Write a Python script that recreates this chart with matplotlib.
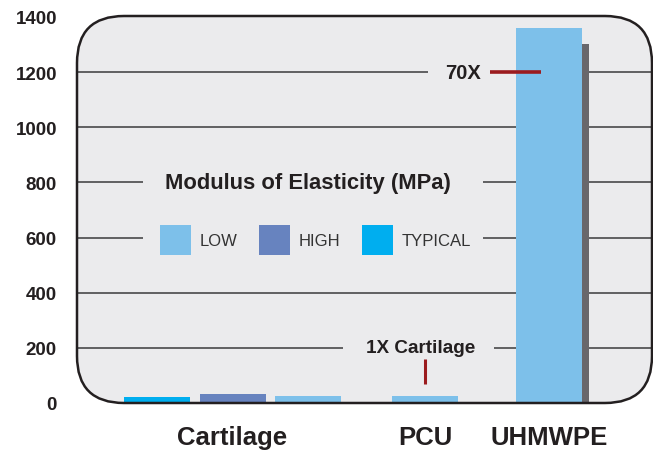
import matplotlib
matplotlib.use("Agg")
import matplotlib.pyplot as plt
from matplotlib.patches import FancyBboxPatch, Rectangle
from matplotlib.transforms import IdentityTransform

# ---- data ----
categories = ["Cartilage", "PCU", "UHMWPE"]
series_names = ["TYPICAL", "HIGH", "LOW"]          # left-to-right order within a group
typical = [22, None, None]
high = [33, None, None]
low = [25, 25, 1360]
uhmwpe_shadow = 1302
y_ticks = [0, 200, 400, 600, 800, 1000, 1200, 1400]
legend_order = ["LOW", "HIGH", "TYPICAL"]
note_top = "70X"
note_bottom = "1X Cartilage"
title = "Modulus of Elasticity (MPa)"

# ---- style ----
BG = "#EBEBED"
INK = "#231F20"
GRID = "#3A3A3C"
RED = "#9B1B1E"
SHADOW = "#69676B"
COLORS = {"LOW": "#7DC0EA", "HIGH": "#6783BF", "TYPICAL": "#00AEEF"}
FONT = "Liberation Sans"

W, H = 653, 452
BOX_L, BOX_R, BOX_T, BOX_B = 77, 652, 17, 404   # pixel frame of the rounded panel
AX_TOP = 18

fig = plt.figure(figsize=(W / 100, H / 100), dpi=100)
fig.patch.set_facecolor("white")
ax = fig.add_axes([BOX_L / W, (H - BOX_B) / H, (BOX_R - BOX_L) / W, (BOX_B - AX_TOP) / H])
ax.set_facecolor("none")
ax.set_zorder(1)
ax.set_xlim(0, BOX_R - BOX_L)
ax.set_ylim(0, 1400)
for s in ax.spines.values():
    s.set_visible(False)

# rounded grey panel behind everything
fig.patches.append(FancyBboxPatch((BOX_L, H - BOX_B), BOX_R - BOX_L, BOX_B - BOX_T,
                                  boxstyle="round,pad=0,rounding_size=47",
                                  transform=IdentityTransform(), facecolor=BG,
                                  edgecolor="none", zorder=-1))

# horizontal guide lines
for y in y_ticks[1:-1]:
    ax.axhline(y, color=GRID, lw=1.1, zorder=1)

# gaps in the guide lines around the annotations
def gap(x0, x1, y0, y1):
    ax.add_patch(Rectangle((x0, y0), x1 - x0, y1 - y0, facecolor=BG, edgecolor="none", zorder=2))

gap(66, 406, 560, 870)
gap(351, 413, 1150, 1250)
gap(266, 417, 160, 240)

# bars
group_centers = [155.5, 348, 472]
slot_step = 75.5
bar_w = 66
values = {"TYPICAL": typical, "HIGH": high, "LOW": low}
for gi, c in enumerate(group_centers):
    present = [n for n in series_names if values[n][gi] is not None]
    k = len(present)
    for si, name in enumerate(present):
        x = c + (si - (k - 1) / 2) * slot_step
        if categories[gi] == "UHMWPE":
            ax.bar(x + 7, uhmwpe_shadow, width=bar_w, color=SHADOW, zorder=3)
        ax.bar(x, values[name][gi], width=bar_w, color=COLORS[name], zorder=4)

# panel outline over the bars
ax.add_patch(FancyBboxPatch((BOX_L, H - BOX_B), BOX_R - BOX_L, BOX_B - BOX_T,
                            boxstyle="round,pad=0,rounding_size=47",
                            transform=IdentityTransform(), fill=False,
                            edgecolor=INK, lw=1.8, clip_on=False, zorder=10))

# annotations
ax.text(386.5, 1197, note_top, ha="center", va="center", fontsize=14.5,
        fontweight="bold", color=INK, family=FONT, zorder=5)
ax.plot([413, 464], [1200, 1200], color=RED, lw=2.6, solid_capstyle="butt", zorder=6)
ax.text(343.5, 200, note_bottom, ha="center", va="center", fontsize=13.6,
        fontweight="bold", color=INK, family=FONT, zorder=5)
ax.plot([group_centers[1], group_centers[1]], [69, 160], color=RED, lw=2.2,
        solid_capstyle="butt", zorder=6)

# title and legend
ax.text(230.5, 801, title, ha="center", va="center", fontsize=15.8,
        fontweight="bold", color=INK, family=FONT, zorder=5)
handles = [Rectangle((0, 0), 1, 1, facecolor=COLORS[n], edgecolor="none") for n in legend_order]
leg = ax.legend(handles, legend_order, ncol=3, frameon=False, loc="center left",
                bbox_to_anchor=(83, 591), bbox_transform=ax.transData,
                prop={"family": FONT, "size": 12}, handlelength=1.86, handleheight=2.39,
                handletextpad=0.54, columnspacing=1.26, borderpad=0, borderaxespad=0)
for t in leg.get_texts():
    t.set_color("#333333")
leg.set_zorder(6)

# axes ticks
ax.set_yticks(y_ticks)
ax.set_yticklabels([str(v) for v in y_ticks], fontsize=13.5, fontweight="bold",
                   color=INK, family=FONT)
ax.tick_params(axis="y", length=0, pad=14.4)
ax.set_xticks(group_centers)
ax.set_xticklabels(categories, fontsize=18.5, fontweight="bold", color=INK, family=FONT)
ax.tick_params(axis="x", length=0, pad=15.5)

fig.savefig("out.png", dpi=100)
